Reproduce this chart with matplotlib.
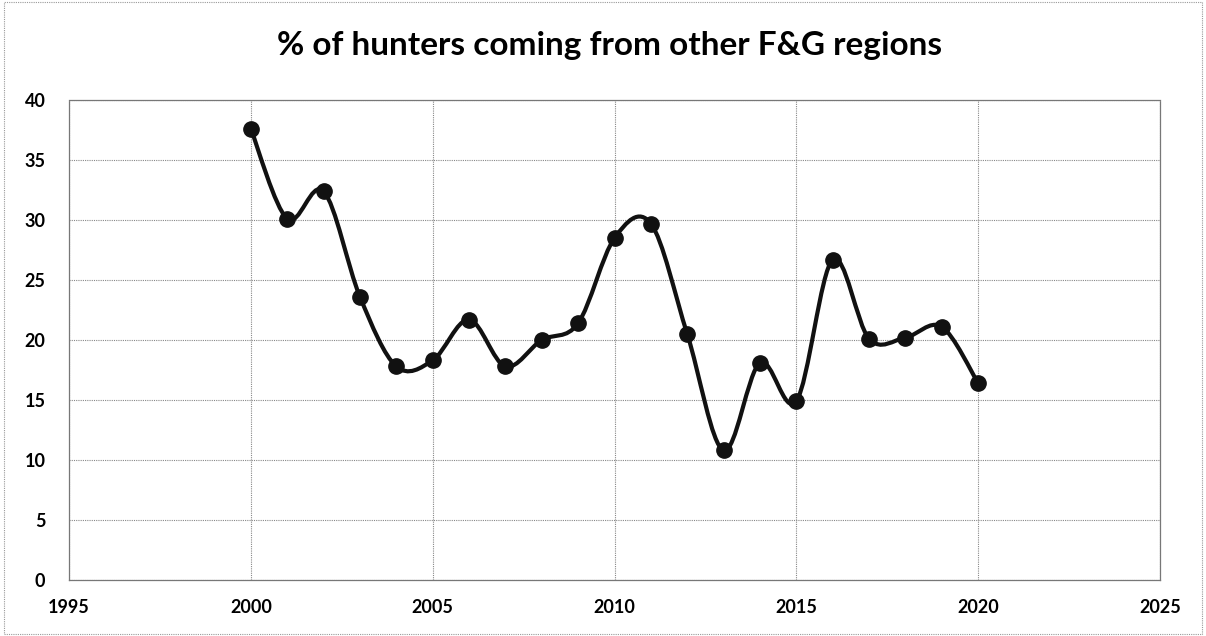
import numpy as np
import matplotlib.pyplot as plt
from matplotlib.path import Path
from matplotlib.patches import PathPatch, Rectangle

plt.rcParams['font.family'] = ['Lato', 'DejaVu Sans']

years = [2000, 2001, 2002, 2003, 2004, 2005, 2006, 2007, 2008, 2009, 2010,
         2011, 2012, 2013, 2014, 2015, 2016, 2017, 2018, 2019, 2020]
pct = [37.6, 30.1, 32.4, 23.6, 17.8, 18.3, 21.7, 17.8, 20.0, 21.4, 28.5,
       29.7, 20.5, 10.8, 18.1, 14.9, 26.7, 20.1, 20.2, 21.1, 16.4]
xticks = [1995, 2000, 2005, 2010, 2015, 2020, 2025]
yticks = [0, 5, 10, 15, 20, 25, 30, 35, 40]
title = '% of hunters coming from other F&G regions'


def smooth_path(x, y):
    # excel-like smoothed line: cubic bezier, control points from neighbours
    x = np.asarray(x, float)
    y = np.asarray(y, float)
    n = len(x)
    verts = [(x[0], y[0])]
    codes = [Path.MOVETO]
    for i in range(n - 1):
        p0 = np.array([x[max(i - 1, 0)], y[max(i - 1, 0)]])
        p1 = np.array([x[i], y[i]])
        p2 = np.array([x[i + 1], y[i + 1]])
        p3 = np.array([x[min(i + 2, n - 1)], y[min(i + 2, n - 1)]])
        c1 = p1 + (p2 - p0) / 6
        c2 = p2 - (p3 - p1) / 6
        verts += [tuple(c1), tuple(c2), tuple(p2)]
        codes += [Path.CURVE4] * 3
    return Path(verts, codes)


fig = plt.figure(figsize=(12.06, 6.36), dpi=100)
ax = fig.add_axes([69 / 1206, 56 / 636, 1091 / 1206, 480 / 636])

ax.add_patch(PathPatch(smooth_path(years, pct), fill=False, lw=3,
                       edgecolor='#111111', zorder=3))
ax.plot(years, pct, 'o', color='#111111', ms=11, zorder=4)

ax.set_xlim(1995, 2025)
ax.set_ylim(0, 40)
ax.set_xticks(xticks)
ax.set_yticks(yticks)
ax.tick_params(axis='y', length=0, labelsize=13, pad=17)
ax.tick_params(axis='x', length=0, labelsize=13, pad=14)
for lbl in ax.get_xticklabels() + ax.get_yticklabels():
    lbl.set_fontweight('bold')
ax.grid(True, color='#888888', lw=0.8, ls=(0, (1, 1)))
for s in ax.spines.values():
    s.set_color('#777777')
    s.set_linewidth(0.9)
    s.set_linestyle((0, (1, 1)))

fig.text(610 / 1206, 1 - 46 / 636, title, ha='center', va='center',
         fontsize=24, fontweight='bold')

fig.patches.append(Rectangle((0.003, 0.003), 0.994, 0.994, transform=fig.transFigure,
                             fill=False, ec='#999999', lw=0.8, ls=(0, (1, 1))))

plt.savefig('out.png', dpi=100)
